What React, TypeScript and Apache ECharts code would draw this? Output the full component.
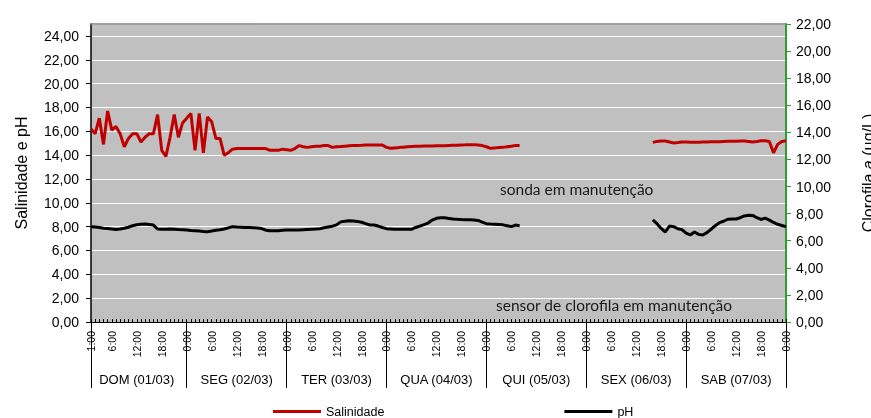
import React, { useEffect, useRef } from 'react';
import * as echarts from 'echarts';

const days = ['DOM (01/03)', 'SEG (02/03)', 'TER (03/03)', 'QUA (04/03)', 'QUI (05/03)', 'SEX (06/03)', 'SAB (07/03)'];

// hourly categories from 1:00 (01/03) to 0:00 (08/03): "dayIndex|h:00"
const hourCategories: string[] = [];
for (let k = 0; k < 168; k++) {
  const t = k + 1;
  hourCategories.push(`${Math.floor(t / 24)}|${t % 24}:00`);
}

const salinidade: (number | null)[] = [
  16.2, 15.8, 17.1, 14.9, 17.7, 16.1, 16.4, 15.8, 14.7, 15.4,
  15.8, 15.8, 15.1, 15.5, 15.8, 15.8, 17.4, 14.4, 13.9, 15.5,
  17.4, 15.5, 16.7, 17.1, 17.5, 14.4, 17.5, 14.2, 17.2, 16.8,
  15.4, 15.4, 14.0, 14.2, 14.5, 14.55, 14.55, 14.55, 14.55, 14.55,
  14.55, 14.55, 14.55, 14.4, 14.4, 14.4, 14.5, 14.45, 14.4, 14.55,
  14.8, 14.7, 14.65, 14.7, 14.75, 14.75, 14.8, 14.8, 14.65, 14.7,
  14.72, 14.75, 14.78, 14.8, 14.8, 14.82, 14.85, 14.85, 14.85, 14.85,
  14.85, 14.65, 14.57, 14.6, 14.63, 14.67, 14.7, 14.72, 14.74, 14.75,
  14.76, 14.76, 14.77, 14.78, 14.78, 14.78, 14.8, 14.82, 14.82, 14.85,
  14.86, 14.88, 14.88, 14.85, 14.8, 14.7, 14.57, 14.6, 14.63, 14.65,
  14.7, 14.75, 14.8, 14.8,
  null, null, null, null, null, null, null, null, null, null,
  null, null, null, null, null, null, null, null, null, null,
  null, null, null, null, null, null, null, null, null, null,
  null,
  15.07, 15.15, 15.18, 15.18, 15.1, 15.02, 15.05, 15.1, 15.1, 15.08,
  15.07, 15.08, 15.1, 15.1, 15.12, 15.12, 15.13, 15.15, 15.16, 15.16,
  15.17, 15.18, 15.18, 15.15, 15.1, 15.15, 15.21, 15.2, 15.15, 14.2,
  14.9, 15.15, 15.2,
];

const ph: (number | null)[] = [
  8.0, 7.97, 7.92, 7.87, 7.84, 7.8, 7.76, 7.8, 7.86, 7.95,
  8.08, 8.16, 8.2, 8.22, 8.18, 8.13, 7.8, 7.78, 7.79, 7.8,
  7.79, 7.76, 7.74, 7.71, 7.68, 7.66, 7.63, 7.6, 7.58, 7.63,
  7.69, 7.74, 7.8, 7.9, 8.0, 7.97, 7.95, 7.93, 7.92, 7.9,
  7.88, 7.84, 7.7, 7.66, 7.66, 7.66, 7.7, 7.72, 7.72, 7.72,
  7.72, 7.74, 7.76, 7.78, 7.8, 7.83, 7.9, 7.97, 8.04, 8.15,
  8.4, 8.45, 8.5, 8.48, 8.44, 8.37, 8.25, 8.14, 8.14, 8.05,
  7.93, 7.83, 7.81, 7.78, 7.78, 7.78, 7.78, 7.78, 7.93, 8.05,
  8.17, 8.3, 8.55, 8.7, 8.74, 8.74, 8.69, 8.64, 8.61, 8.59,
  8.58, 8.57, 8.55, 8.52, 8.38, 8.25, 8.22, 8.2, 8.18, 8.15,
  8.08, 8.0, 8.13, 8.08,
  null, null, null, null, null, null, null, null, null, null,
  null, null, null, null, null, null, null, null, null, null,
  null, null, null, null, null, null, null, null, null, null,
  null,
  8.56, 8.25, 7.85, 7.55, 8.05, 8.0, 7.82, 7.75, 7.45, 7.3,
  7.55, 7.35, 7.3, 7.5, 7.78, 8.08, 8.33, 8.45, 8.62, 8.64,
  8.64, 8.75, 8.9, 8.96, 8.94, 8.75, 8.6, 8.72, 8.55, 8.35,
  8.2, 8.1, 8.0,
];

const FONT = 'Liberation Sans';
const hourOf = (v: string) => parseInt(v.split('|')[1], 10);
const dayOf = (v: string) => parseInt(v.split('|')[0], 10);
const fmt = (v: number) => v.toFixed(2).replace('.', ',');

export default function App() {
  const ref = useRef<HTMLDivElement>(null);
  useEffect(() => {
    if (!ref.current) return;
    const chart = echarts.init(ref.current, undefined, { renderer: 'svg' });
    chart.setOption({
      animation: false,
      grid: {
        left: 91, right: 85, top: 24, bottom: 96, show: true, backgroundColor: '#C0C0C0', borderWidth: 0,
        containLabel: false, outerBoundsMode: 'none',
      },
      legend: {
        left: 268, top: 400, itemWidth: 48, itemHeight: 3, itemGap: 180, icon: 'rect',
        textStyle: { fontSize: 12.5, fontFamily: FONT, color: '#000' },
        data: ['Salinidade', 'pH'],
      },
      xAxis: [
        {
          type: 'category', data: hourCategories, boundaryGap: false, position: 'bottom',
          axisLine: { onZero: false, lineStyle: { color: '#000', width: 1 } },
          axisTick: { inside: true, length: 3, interval: 0, lineStyle: { color: '#000' } },
          axisLabel: {
            interval: (i: number, v: string) => i === 0 || hourOf(v) % 6 === 0,
            rotate: 90, margin: 9, formatter: (v: string) => v.split('|')[1],
            fontSize: 10.5, fontFamily: FONT, color: '#000',
          },
          splitLine: { show: false },
        },
        {
          type: 'category', data: hourCategories, boundaryGap: false, position: 'bottom',
          axisLine: { show: false, onZero: false },
          axisTick: {
            show: true, inside: false, length: 66,
            interval: (i: number, v: string) => i === 0 || hourOf(v) === 0,
            lineStyle: { color: '#000' },
          },
          axisLabel: {
            interval: (i: number, v: string) => hourOf(v) === 12,
            margin: 51, formatter: (v: string) => days[dayOf(v)],
            fontSize: 13, fontFamily: FONT, color: '#000',
          },
          splitLine: { show: false },
        },
        {
          type: 'category', data: hourCategories, boundaryGap: false, position: 'top',
          axisLine: { onZero: false, lineStyle: { color: '#808080', width: 1.5 } },
          axisTick: { show: false }, axisLabel: { show: false }, splitLine: { show: false },
        },
      ],
      yAxis: [
        {
          type: 'value', min: 0, max: 25, interval: 2, position: 'left',
          name: 'Salinidade e pH', nameLocation: 'middle', nameGap: 62, nameRotate: 90,
          nameTextStyle: { fontSize: 16, fontFamily: FONT, color: '#000' },
          axisLine: { show: true, lineStyle: { color: '#000', width: 1.5 } },
          axisTick: { show: true, length: 5, lineStyle: { color: '#000' } },
          axisLabel: { showMaxLabel: false, formatter: fmt, fontSize: 14, margin: 12, fontFamily: FONT, color: '#000' },
          splitLine: { show: true, lineStyle: { color: '#ffffff', width: 1 } },
        },
        {
          type: 'value', min: 0, max: 22, interval: 2, position: 'right',
          name: 'Clorofila {i|a} (µg/L)', nameLocation: 'middle', nameGap: 74, nameRotate: 90,
          nameTextStyle: {
            fontSize: 16, fontFamily: FONT, color: '#000',
            rich: { i: { fontSize: 16, fontFamily: FONT, fontStyle: 'italic', color: '#000' } },
          },
          axisLine: { show: true, lineStyle: { color: '#2E9E2E', width: 2 } },
          axisTick: { show: true, length: 5, lineStyle: { color: '#2E9E2E' } },
          axisLabel: { formatter: fmt, fontSize: 14, margin: 10, fontFamily: FONT, color: '#000' },
          splitLine: { show: false },
        },
      ],
      series: [
        {
          name: 'Salinidade', type: 'line', data: salinidade, xAxisIndex: 0, yAxisIndex: 0,
          showSymbol: false, symbol: 'none', connectNulls: false,
          lineStyle: { color: '#C00000', width: 3 }, itemStyle: { color: '#C00000' },
        },
        {
          name: 'pH', type: 'line', data: ph, xAxisIndex: 0, yAxisIndex: 0,
          showSymbol: false, symbol: 'none', connectNulls: false,
          lineStyle: { color: '#000000', width: 3 }, itemStyle: { color: '#000000' },
        },
      ],
      graphic: [
        {
          type: 'text', left: 500, top: 181, z: 10,
          style: { text: 'sonda em manutenção', fontSize: 15.5, fontFamily: 'Lato', fill: '#1a1a1a' },
        },
        {
          type: 'text', left: 496, top: 297, z: 10,
          style: { text: 'sensor de clorofila em manutenção', fontSize: 15.5, fontFamily: 'Lato', fill: '#1a1a1a' },
        },
      ],
    });
    return () => chart.dispose();
  }, []);
  return <div ref={ref} style={{ position: 'fixed', left: 0, top: 0, width: 871, height: 418 }} />;
}
